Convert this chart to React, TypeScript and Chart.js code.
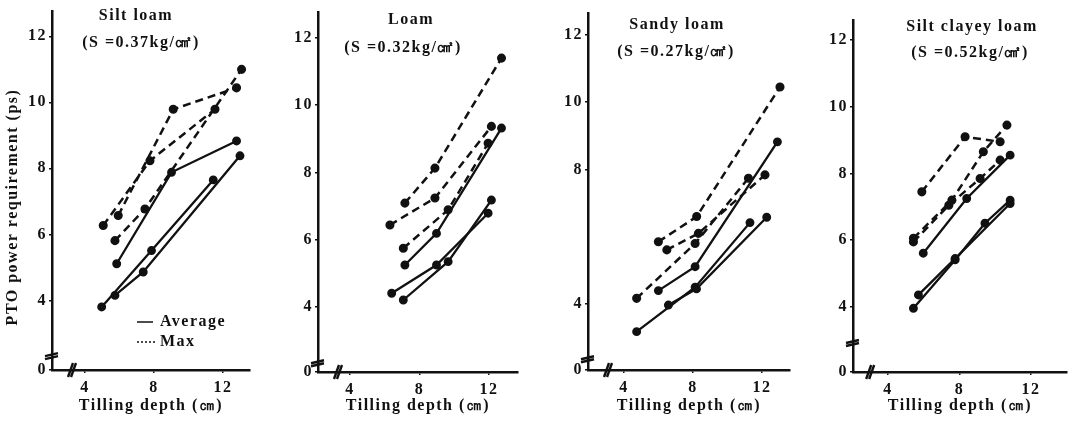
import { useEffect, useRef } from 'react';
import { Chart, registerables } from 'chart.js';

Chart.register(...registerables);

type Pt = [number, number];

// ---- Data (x = tilling depth cm, y = PTO power ps) ----
// Silt loam
const siltLoamAvgA: Pt[] = [[5.84, 5.11], [9.02, 7.88], [12.79, 8.83]];
const siltLoamAvgB: Pt[] = [[4.97, 3.8], [7.86, 5.51], [11.44, 7.65]];
const siltLoamAvgC: Pt[] = [[5.74, 4.15], [7.38, 4.86], [12.99, 8.38]];
const siltLoamMaxA: Pt[] = [[5.93, 6.57], [9.12, 9.79], [12.79, 10.44]];
const siltLoamMaxB: Pt[] = [[5.06, 6.27], [7.77, 8.23], [11.54, 9.79]];
const siltLoamMaxC: Pt[] = [[5.74, 5.81], [7.48, 6.77], [13.08, 11.0]];
// Loam
const loamAvgA: Pt[] = [[7.16, 5.25], [8.98, 6.19], [12.72, 9.32]];
const loamAvgB: Pt[] = [[6.4, 4.41], [8.98, 5.25], [11.95, 6.79]];
const loamAvgC: Pt[] = [[7.07, 4.21], [9.65, 5.35], [12.14, 7.18]];
const loamMaxA: Pt[] = [[7.16, 7.09], [8.89, 8.13], [12.72, 11.4]];
const loamMaxB: Pt[] = [[6.3, 6.44], [8.89, 7.24], [12.14, 9.37]];
const loamMaxC: Pt[] = [[7.07, 5.75], [9.65, 6.89], [11.95, 8.87]];
// Sandy loam
const sandyAvgA: Pt[] = [[5.99, 4.4], [8.12, 5.11], [12.89, 8.82]];
const sandyAvgB: Pt[] = [[4.73, 3.18], [8.12, 4.5], [11.3, 6.42]];
const sandyAvgC: Pt[] = [[6.57, 3.97], [8.2, 4.45], [12.27, 6.58]];
const sandyMaxA: Pt[] = [[5.99, 5.85], [8.21, 6.6], [13.04, 10.45]];
const sandyMaxB: Pt[] = [[6.48, 5.61], [8.31, 6.1], [12.17, 7.84]];
const sandyMaxC: Pt[] = [[4.73, 4.17], [8.12, 5.8], [11.21, 7.74]];
// Silt clayey loam
const clayeyAvgA: Pt[] = [[5.97, 5.61], [8.4, 7.25], [10.83, 8.55]];
const clayeyAvgB: Pt[] = [[5.42, 3.96], [7.75, 5.41], [9.42, 6.51], [10.83, 7.2]];
const clayeyAvgC: Pt[] = [[5.7, 4.36], [7.75, 5.45], [10.83, 7.1]];
const clayeyMaxA: Pt[] = [[5.89, 7.45], [8.31, 9.1], [10.27, 8.95]];
const clayeyMaxB: Pt[] = [[5.42, 6.06], [7.57, 7.2], [9.33, 8.65], [10.65, 9.45]];
const clayeyMaxC: Pt[] = [[5.42, 5.95], [7.4, 7.05], [9.15, 7.85], [10.27, 8.4]];

const xTickValues = [4, 8, 12];
const yTickValues = [4, 6, 8, 10, 12];
const yTickValuesSandy = [4, 8, 10, 12];
const yBottomLabel = '0';

const soilNames = ['Silt loam', 'Loam', 'Sandy loam', 'Silt clayey loam'];
const soilStrength = ['(S =0.37kg/㎠)', '(S =0.32kg/㎠)', '(S =0.27kg/㎠)', '(S =0.52kg/㎠)'];
const xTitle = 'Tilling depth (㎝)';
const yTitle = 'PTO power requirement (ps)';
const legendLabels = ['Average', 'Max'];

const H = 421;
const FONT = "'Liberation Serif', serif";
const TICKFONT = "'Liberation Serif', serif";

interface Panel {
  canvasLeft: number; canvasWidth: number;
  plotLeft: number; plotRight: number; plotTop: number; plotBottom: number;
  xMin: number; xMax: number; yMin: number; yMax: number;
  xBreak: number; yBreak: number; yTicks: number[];
  name: string; sub: string;
  nameX: number; nameY: number; subX: number; subY: number;
  avg: Pt[][]; max: Pt[][];
  showYTitle: boolean; showLegend: boolean;
}

const panels: Panel[] = [
  {
    canvasLeft: 0, canvasWidth: 265, plotLeft: 52, plotRight: 250, plotTop: 10, plotBottom: 370,
    xMin: 2.09, xMax: 13.57, yMin: 1.89, yMax: 12.75, xBreak: 3.25, yBreak: 2.34, yTicks: yTickValues,
    name: soilNames[0], sub: soilStrength[0], nameX: 136, nameY: 16, subX: 141, subY: 43,
    avg: [siltLoamAvgA, siltLoamAvgB, siltLoamAvgC], max: [siltLoamMaxA, siltLoamMaxB, siltLoamMaxC],
    showYTitle: true, showLegend: true,
  },
  {
    canvasLeft: 265, canvasWidth: 265, plotLeft: 318, plotRight: 518, plotTop: 12, plotBottom: 372,
    xMin: 2.16, xMax: 13.67, yMin: 2.07, yMax: 12.77, xBreak: 3.31, yBreak: 2.36, yTicks: yTickValues,
    name: soilNames[1], sub: soilStrength[1], nameX: 411, nameY: 20, subX: 403, subY: 48,
    avg: [loamAvgA, loamAvgB, loamAvgC], max: [loamMaxA, loamMaxB, loamMaxC],
    showYTitle: false, showLegend: false,
  },
  {
    canvasLeft: 530, canvasWidth: 270, plotLeft: 588, plotRight: 790, plotTop: 13, plotBottom: 370,
    xMin: 1.91, xMax: 13.62, yMin: 2.04, yMax: 12.65, xBreak: 3.07, yBreak: 2.39, yTicks: yTickValuesSandy,
    name: soilNames[2], sub: soilStrength[2], nameX: 677, nameY: 25, subX: 676, subY: 52,
    avg: [sandyAvgA, sandyAvgB, sandyAvgC], max: [sandyMaxA, sandyMaxB, sandyMaxC],
    showYTitle: false, showLegend: false,
  },
  {
    canvasLeft: 800, canvasWidth: 276, plotLeft: 853, plotRight: 1067, plotTop: 20, plotBottom: 372,
    xMin: 2.04, xMax: 14.01, yMin: 2.05, yMax: 12.6, xBreak: 3.0, yBreak: 2.95, yTicks: yTickValues,
    name: soilNames[3], sub: soilStrength[3], nameX: 972, nameY: 27, subX: 970, subY: 53,
    avg: [clayeyAvgA, clayeyAvgB, clayeyAvgC], max: [clayeyMaxA, clayeyMaxB, clayeyMaxC],
    showYTitle: false, showLegend: false,
  },
];

const INK = '#111';

function makeDecor(p: Panel) {
  return {
    id: 'decor',
    beforeDraw(chart: any) {
      chart.ctx.letterSpacing = '1.5px';
    },
    afterDraw(chart: any) {
      const ctx = chart.ctx as CanvasRenderingContext2D;
      const xs = chart.scales.x;
      const ys = chart.scales.y;
      const ca = chart.chartArea;
      const off = p.canvasLeft;
      ctx.save();
      (ctx as any).letterSpacing = '1.5px';
      ctx.fillStyle = INK;
      ctx.strokeStyle = INK;
      // axis breaks
      const yb = ys.getPixelForValue(p.yBreak);
      ctx.lineWidth = 2.4;
      ctx.beginPath();
      ctx.moveTo(ca.left - 7, yb + 1); ctx.lineTo(ca.left + 6, yb - 2);
      ctx.moveTo(ca.left - 7, yb + 4); ctx.lineTo(ca.left + 6, yb + 1);
      ctx.stroke();
      const xb = xs.getPixelForValue(p.xBreak);
      ctx.beginPath();
      ctx.moveTo(xb - 4, ca.bottom + 7); ctx.lineTo(xb + 1, ca.bottom - 7);
      ctx.moveTo(xb - 1, ca.bottom + 7); ctx.lineTo(xb + 4, ca.bottom - 7);
      ctx.stroke();
      // titles
      ctx.textAlign = 'center';
      ctx.textBaseline = 'middle';
      ctx.font = `bold 16px ${FONT}`;
      ctx.fillText(p.name, p.nameX - off, p.nameY);
      ctx.fillText(p.sub, p.subX - off, p.subY);
      if (p.showLegend) {
        ctx.lineWidth = 1.5;
        ctx.beginPath();
        ctx.moveTo(137 - off, 322); ctx.lineTo(153 - off, 322);
        ctx.stroke();
        ctx.setLineDash([2, 2]);
        ctx.beginPath();
        ctx.moveTo(137 - off, 342); ctx.lineTo(156 - off, 342);
        ctx.stroke();
        ctx.setLineDash([]);
        ctx.textAlign = 'left';
        ctx.fillText(legendLabels[0], 160 - off, 322);
        ctx.fillText(legendLabels[1], 160 - off, 342);
      }
      if (p.showYTitle) {
        ctx.translate(13 - off, 207);
        ctx.rotate(-Math.PI / 2);
        ctx.textAlign = 'center';
        ctx.fillText(yTitle, 0, 0);
      }
      ctx.restore();
    },
  };
}

function buildConfig(p: Panel): any {
  const toXY = (s: Pt[]) => s.map(([x, y]) => ({ x, y }));
  const datasets: any[] = [];
  p.avg.forEach((s, i) => datasets.push({
    label: `${legendLabels[0]} ${i + 1}`, data: toXY(s),
    borderColor: INK, backgroundColor: INK, borderWidth: 2.3, pointRadius: 3.3,
    pointBackgroundColor: INK, pointBorderColor: INK, tension: 0,
  }));
  p.max.forEach((s, i) => datasets.push({
    label: `${legendLabels[1]} ${i + 1}`, data: toXY(s),
    borderColor: INK, backgroundColor: INK, borderWidth: 2.5, pointRadius: 3.3,
    borderDash: [8, 5], pointBackgroundColor: INK, pointBorderColor: INK, tension: 0,
  }));
  const yAxisWidth = p.plotLeft - p.canvasLeft;
  const xAxisHeight = H - p.plotBottom;
  return {
    type: 'line',
    data: { datasets },
    options: {
      animation: false,
      responsive: false,
      maintainAspectRatio: false,
      layout: { padding: { left: 0, right: p.canvasLeft + p.canvasWidth - p.plotRight, top: p.plotTop, bottom: 0 } },
      plugins: { legend: { display: false }, tooltip: { enabled: false }, title: { display: false } },
      scales: {
        x: {
          type: 'linear', min: p.xMin, max: p.xMax,
          afterBuildTicks: (sc: any) => { sc.ticks = xTickValues.map((v) => ({ value: v })); },
          afterFit: (sc: any) => { sc.height = xAxisHeight; },
          ticks: { color: INK, font: { family: TICKFONT, size: 16, weight: 'bold' }, padding: 5, maxRotation: 0 },
          grid: { display: true, drawOnChartArea: false, drawTicks: true, tickLength: 3, color: INK, lineWidth: 1.5 },
          border: { display: true, color: INK, width: 2.5 },
          title: { display: true, text: xTitle, color: INK, font: { family: FONT, size: 16, weight: 'bold' }, padding: { top: 0, bottom: 6 } },
        },
        y: {
          type: 'linear', min: p.yMin, max: p.yMax,
          afterBuildTicks: (sc: any) => { sc.ticks = [p.yMin, ...p.yTicks].map((v) => ({ value: v })); },
          afterFit: (sc: any) => { sc.width = yAxisWidth; },
          ticks: {
            color: INK, font: { family: TICKFONT, size: 16, weight: 'bold' }, padding: 2,
            callback: (v: number) => (v === p.yMin ? yBottomLabel : String(v)),
          },
          grid: { display: true, drawOnChartArea: false, drawTicks: true, tickLength: 3, color: INK, lineWidth: 1.5 },
          border: { display: true, color: INK, width: 2.5 },
        },
      },
    },
    plugins: [makeDecor(p)],
  };
}

export default function App() {
  const refs = useRef<(HTMLCanvasElement | null)[]>([]);
  useEffect(() => {
    const charts = panels.map((p, i) => new Chart(refs.current[i] as HTMLCanvasElement, buildConfig(p)));
    return () => charts.forEach((c) => c.destroy());
  }, []);
  return (
    <div style={{ position: 'absolute', left: 0, top: 0, width: 1076, height: H, background: '#fff' }}>
      {panels.map((p, i) => (
        <canvas
          key={i}
          ref={(el) => { refs.current[i] = el; }}
          width={p.canvasWidth}
          height={H}
          style={{ position: 'absolute', left: p.canvasLeft, top: 0, width: p.canvasWidth, height: H, display: 'block' }}
        />
      ))}
    </div>
  );
}
